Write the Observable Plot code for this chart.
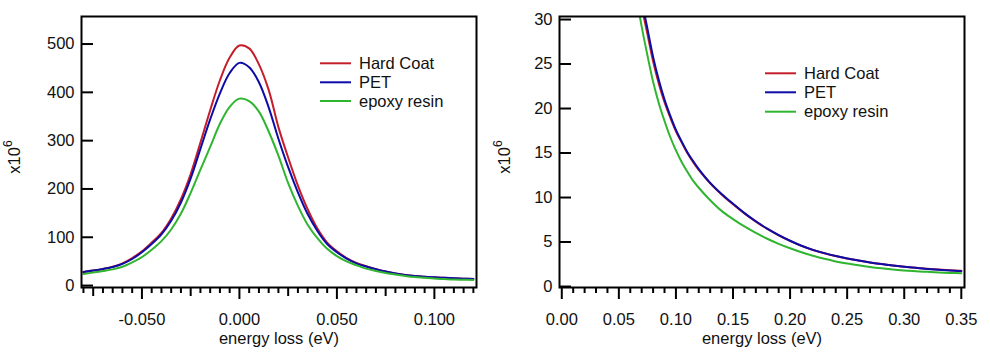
<!DOCTYPE html>
<html><head><meta charset="utf-8">
<script src="https://cdn.jsdelivr.net/npm/d3@7"></script>
<script src="https://cdn.jsdelivr.net/npm/@observablehq/plot@0.6"></script>
<style>
body{margin:0;background:#fff;}
#wrap{display:flex;width:990px;height:359px;}
svg{overflow:visible;}
</style></head><body><div id="wrap"></div>
<script>
const seriesNames = ["Hard Coat", "PET", "epoxy resin"];
const seriesColors = ["#c41e2a", "#0c0ca6", "#2fb52f"];

// Left panel (peak)
const xLeft = [-0.080,-0.075,-0.070,-0.065,-0.060,-0.055,-0.050,-0.045,-0.040,-0.035,-0.030,-0.025,-0.020,-0.015,-0.010,-0.005,0.000,0.005,0.010,0.015,0.020,0.025,0.030,0.035,0.040,0.045,0.050,0.055,0.060,0.065,0.070,0.075,0.080,0.085,0.090,0.095,0.100,0.105,0.110,0.115,0.120];
const hardCoatLeft = [28,31,34.5,39,46,57,71,89,109,139,179,231,296,363,425,472,497,491,458,405,328,265,207,158,118,89,71,57,47,40,34,29,25,22,20,18.5,17,16,15,14.2,13.5];
const petLeft = [28,31,34.5,38.5,45,55,69,86,106,134,172,222,283,344,398,440,461,452,421,369,304,245,193,148,113,86,69,56,46,39.5,34,29,25,22,20,18.5,17,16,15,14.2,13.5];
const epoxyLeft = [24,27,30,33.5,39,48,59,74,92,116,149,192,240,287,335,370,387,382,360,319,269,212,165,126,98,76,61,50,42,35,30,26,23,20,17.5,16,14.5,13.5,12.5,12,11.5];

// Right panel (tail)
const xRight = [0.060,0.065,0.070,0.075,0.080,0.085,0.090,0.095,0.100,0.105,0.110,0.115,0.120,0.130,0.140,0.150,0.160,0.170,0.180,0.190,0.200,0.210,0.220,0.230,0.240,0.250,0.260,0.270,0.280,0.290,0.300,0.310,0.320,0.330,0.340,0.350];
const hardCoatRight = [42,36,31.5,28.4,25.3,22.8,20.7,19.0,17.45,16.2,15.0,14.0,13.1,11.6,10.35,9.25,8.22,7.3,6.47,5.76,5.13,4.57,4.11,3.74,3.43,3.15,2.92,2.71,2.53,2.37,2.23,2.11,2.0,1.9,1.82,1.76];
const petRight = [43,37,32.3,29.0,25.8,23.2,21.0,19.2,17.6,16.3,15.1,14.1,13.2,11.65,10.4,9.3,8.25,7.33,6.5,5.78,5.14,4.58,4.12,3.75,3.43,3.15,2.92,2.71,2.52,2.36,2.22,2.1,1.98,1.88,1.79,1.72];
const epoxyRight = [39,33,29.2,26,23,20.6,18.6,16.8,15.3,14.0,12.9,11.9,11.1,9.7,8.5,7.58,6.75,6.02,5.37,4.8,4.3,3.85,3.45,3.12,2.82,2.58,2.38,2.2,2.05,1.92,1.8,1.72,1.65,1.58,1.53,1.49];

// Tick values
const leftMajorX = [-0.05, 0, 0.05, 0.1];
const leftMidX = [-0.075, -0.025, 0.025, 0.075];
const leftMinorX = [-0.08,-0.07,-0.065,-0.06,-0.055,-0.045,-0.04,-0.035,-0.03,-0.02,-0.015,-0.01,-0.005,0.005,0.01,0.015,0.02,0.03,0.035,0.04,0.045,0.055,0.06,0.065,0.07,0.08,0.085,0.09,0.095,0.105,0.11,0.115,0.12];
const leftYTicks = [0, 100, 200, 300, 400, 500];
const rightMajorX = [0, 0.05, 0.1, 0.15, 0.2, 0.25, 0.3, 0.35];
const rightMinorX = [0.01,0.02,0.03,0.04,0.06,0.07,0.08,0.09,0.11,0.12,0.13,0.14,0.16,0.17,0.18,0.19,0.21,0.22,0.23,0.24,0.26,0.27,0.28,0.29,0.31,0.32,0.33,0.34];
const rightYTicks = [0, 5, 10, 15, 20, 25, 30];
const xLabel = "energy loss (eV)";

const FONT = "'Liberation Sans', Arial, sans-serif";
const FS = 16.5;

function panel(o) {
  const rows = [];
  o.series.forEach((vals, i) => vals.forEach((v, j) => rows.push({x: o.xs[j], y: v, s: seriesNames[i]})));
  const W = 495, H = 359;
  const frameW = W - o.ml - o.mr;
  const marks = [
    Plot.line(rows, {x: "x", y: "y", z: "s", stroke: "s", strokeWidth: 2, curve: "catmull-rom", clip: true}),
    Plot.tickY(o.yTicks, {y: d => d, insetRight: frameW - 12, stroke: "#000", strokeWidth: 2}),
    Plot.axisY({ticks: o.yTicks, tickSize: 0, tickPadding: 7, tickFormat: d => String(d), fill: "#111"}),
    Plot.axisX({ticks: o.minorX, tickSize: 6, tickFormat: () => "", strokeWidth: 2, stroke: "#000"}),
    Plot.axisX({ticks: o.majorX, tickSize: 12, tickPadding: 14, tickFormat: o.fmt, strokeWidth: 2, stroke: "#000", fill: "#111"}),
    Plot.text([xLabel], {text: d => d, frameAnchor: "bottom", dy: 56, fontSize: FS, fill: "#111"}),
    Plot.frame({stroke: "#000", strokeWidth: 2})
  ];
  if (o.midX) marks.splice(3, 0, Plot.axisX({ticks: o.midX, tickSize: 9, tickFormat: () => "", strokeWidth: 2, stroke: "#000"}));
  const svg = Plot.plot({
    width: W, height: H,
    marginLeft: o.ml, marginRight: o.mr, marginTop: 16, marginBottom: 72,
    x: {domain: o.xDomain, label: null},
    y: {domain: o.yDomain, label: null},
    color: {domain: seriesNames, range: seriesColors},
    style: {fontFamily: FONT, fontSize: FS + "px", background: "white", overflow: "visible"},
    marks
  });
  const s = d3.select(svg);
  // y label x10^6
  const t = s.append("text")
    .attr("transform", `translate(${o.ylx},157) rotate(-90)`)
    .attr("text-anchor", "middle")
    .attr("font-family", FONT).attr("font-size", FS).attr("fill", "#111")
    .text("x10");
  t.append("tspan").attr("dy", -8).attr("font-size", 12).text("6");
  // legend
  const g = s.append("g").attr("text-anchor", "start");
  seriesNames.forEach((n, i) => {
    const y = o.legY[i];
    g.append("line").attr("x1", o.legX).attr("x2", o.legX + 31).attr("y1", y).attr("y2", y)
      .attr("stroke", seriesColors[i]).attr("stroke-width", 2);
    g.append("text").attr("x", o.legX + 39).attr("y", y).attr("dy", "0.35em")
      .attr("text-anchor", "start")
      .attr("font-family", FONT).attr("font-size", FS).attr("fill", "#111").text(n);
  });
  return svg;
}

const wrap = document.getElementById("wrap");
wrap.appendChild(panel({
  xs: xLeft, series: [hardCoatLeft, petLeft, epoxyLeft],
  xDomain: [-0.081, 0.1216], yDomain: [-4, 557],
  ml: 81, mr: 19,
  majorX: leftMajorX, midX: leftMidX, minorX: leftMinorX,
  yTicks: leftYTicks, fmt: d => d.toFixed(3),
  legX: 320, legY: [63.3, 82.3, 101], ylx: 20
}));
wrap.appendChild(panel({
  xs: xRight, series: [hardCoatRight, petRight, epoxyRight],
  xDomain: [-0.002, 0.3528], yDomain: [-0.11, 30.34],
  ml: 64, mr: 26,
  majorX: rightMajorX, midX: null, minorX: rightMinorX,
  yTicks: rightYTicks, fmt: d => d.toFixed(2),
  legX: 270, legY: [73.3, 92.3, 111.7], ylx: 15
}));
</script></body></html>
